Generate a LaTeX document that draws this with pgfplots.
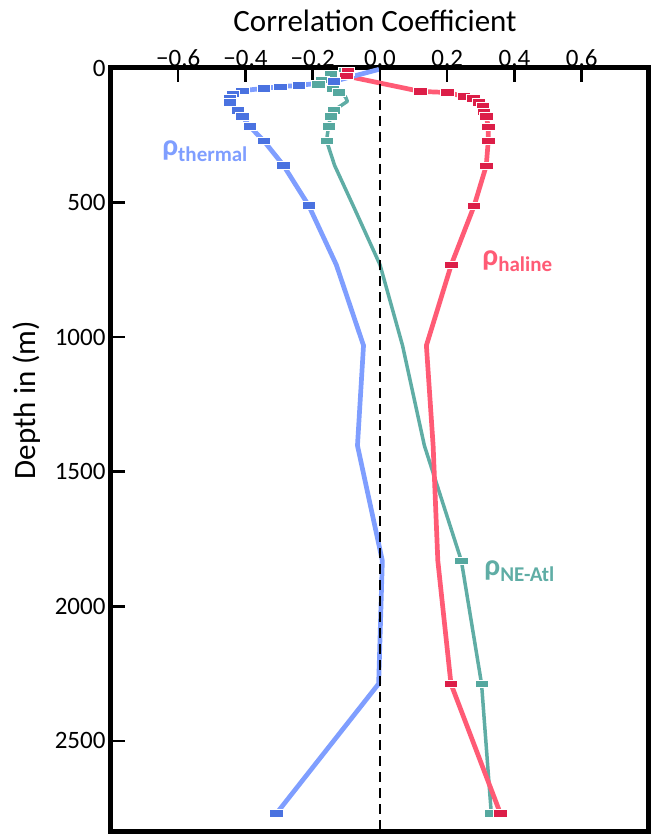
\documentclass[border=0pt]{standalone}
\usepackage{fontspec}
\setmainfont{Carlito}
\usepackage{pgfplots}
\pgfplotsset{compat=1.18}
\definecolor{thermL}{HTML}{7F9EFF}
\definecolor{thermM}{HTML}{4A72E0}
\definecolor{halL}{HTML}{FF5B75}
\definecolor{halM}{HTML}{DC1E48}
\definecolor{neL}{HTML}{5FADA5}
\definecolor{neM}{HTML}{55A89F}
\begin{document}
\begin{tikzpicture}
\begin{axis}[
  at={(0,0)}, anchor=south west,
  scale only axis, width=538pt, height=763pt,
  xmin=-0.8, xmax=0.8, ymin=0, ymax=2835, y dir=reverse,
  xtick={-0.6,-0.4,-0.2,0,0.2,0.4,0.6},
  xticklabels={−0.6,−0.4,−0.2,0.0,0.2,0.4,0.6},
  ytick={0,500,1000,1500,2000,2500},
  yticklabels={0,500,1000,1500,2000,2500},
  xtick pos=right, xticklabel pos=right, ytick pos=left,
  tick align=inside,
  major tick length=14pt,
  every tick/.style={black, line width=2.5pt},
  axis line style={line width=5pt, line join=miter},
  ticklabel style={font=\fontsize{25}{30}\selectfont},
  xticklabel style={yshift=-2pt},
  yticklabel style={xshift=-2pt},
  mk/.style={only marks, mark=square*, mark size=3.7pt,
     mark options={xscale=1.8, draw=white, line width=0.7pt, fill=#1}},
]
% NE-Atl line
\addplot[neL, line width=3.5pt, line join=round] coordinates {
(-0.103,13) (-0.147,24) (-0.171,43) (-0.183,61) (-0.141,76) (-0.123,91)
(-0.103,106) (-0.097,124) (-0.138,158) (-0.147,180) (-0.153,217) (-0.159,270)
(-0.135,362) (-0.08,511) (0.0,731) (0.067,1031) (0.132,1403) (0.242,1831)
(0.302,2288) (0.331,2770)};
% haline line
\addplot[halL, line width=4.7pt, line join=round] coordinates {
(-0.095,12) (-0.10,30) (0.12,87) (0.20,91) (0.25,106) (0.278,113) (0.293,128)
(0.305,143) (0.308,162) (0.316,180) (0.322,218) (0.322,270) (0.316,363)
(0.28,512) (0.212,731) (0.138,1031) (0.158,1403) (0.172,1831) (0.211,2288)
(0.358,2770)};
% thermal line
\addplot[thermL, line width=4.7pt, line join=round] coordinates {
(-0.003,5) (-0.138,50) (-0.242,65) (-0.296,69) (-0.346,76) (-0.409,84)
(-0.438,95) (-0.447,110) (-0.447,128) (-0.423,158) (-0.409,180) (-0.388,217)
(-0.346,270) (-0.287,362) (-0.212,511) (-0.13,731) (-0.049,1031) (-0.067,1403)
(0.007,1831) (-0.004,2288) (-0.308,2770)};
% markers
\addplot[mk=neM] coordinates {
(-0.103,13) (-0.147,24) (-0.171,43) (-0.183,61) (-0.141,76) (-0.123,91)
(-0.138,158) (-0.147,180) (-0.153,217) (-0.159,270)
(0.242,1831) (0.302,2288) (0.331,2770)};
\addplot[mk=halM] coordinates {
(-0.095,12) (-0.10,30) (0.12,87) (0.20,91) (0.25,106) (0.278,113) (0.293,128)
(0.305,143) (0.308,162) (0.316,180) (0.322,218) (0.322,270) (0.316,363)
(0.28,512) (0.212,731) (0.211,2288) (0.358,2770)};
\addplot[mk=thermM] coordinates {
(-0.138,50) (-0.242,65) (-0.296,69) (-0.346,76) (-0.409,84)
(-0.438,95) (-0.447,110) (-0.447,128) (-0.423,158) (-0.409,180) (-0.388,217)
(-0.346,270) (-0.287,362) (-0.212,511) (-0.308,2770)};
% zero line
\addplot[black, line width=1.6pt, dash pattern=on 10pt off 6pt] coordinates {(0,0) (0,2835)};
% labels
\node[anchor=west, text=thermL, font=\bfseries\fontsize{30}{34}\selectfont] at (axis cs:-0.658,310) {ρ\textsubscript{thermal}};
\node[anchor=west, text=halL, font=\bfseries\fontsize{30}{34}\selectfont] at (axis cs:0.294,719) {ρ\textsubscript{haline}};
\node[anchor=west, text=neL, font=\bfseries\fontsize{30}{34}\selectfont] at (axis cs:0.300,1871) {ρ\textsubscript{NE-Atl}};
\end{axis}
\node[anchor=base, font=\fontsize{31}{36}\selectfont] at (264pt,799pt) {Correlation Coefficient};
\node[rotate=90, anchor=center, font=\fontsize{31}{36}\selectfont] at (-84pt,431pt) {Depth in (m)};
\pgfresetboundingbox
\path[use as bounding box] (-111pt,-6pt) rectangle (542pt,831pt);
\end{tikzpicture}
\end{document}
